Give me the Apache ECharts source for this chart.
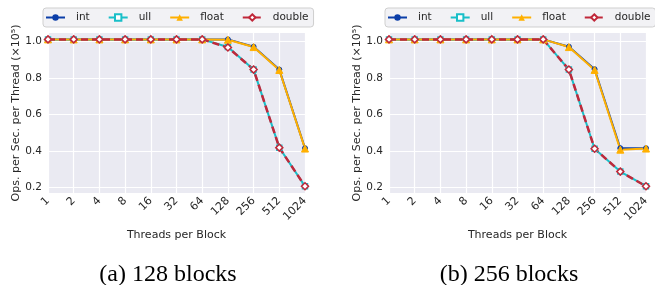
<!DOCTYPE html>
<html>
<head>
<meta charset="utf-8">
<script src="https://cdn.jsdelivr.net/npm/echarts@6/dist/echarts.min.js"></script>
<style>
* { margin: 0; padding: 0; }
#chart { width: 655px; height: 285px; background: #fff; }
</style>
</head>
<body>
<div id="chart"></div>
<script>
const threads = ['1', '2', '4', '8', '16', '32', '64', '128', '256', '512', '1024']
const yTicks = [0.2, 0.4, 0.6, 0.8, 1.0]

// (a) 128 blocks
const intA = [1.01, 1.01, 1.01, 1.01, 1.01, 1.01, 1.01, 1.01, 0.97, 0.845, 0.415]
const ullA = [1.01, 1.01, 1.01, 1.01, 1.01, 1.01, 1.01, 0.968, 0.845, 0.418, 0.207]
const floatA = [1.01, 1.01, 1.01, 1.01, 1.01, 1.01, 1.01, 1.008, 0.968, 0.843, 0.413]
const doubleA = [1.01, 1.01, 1.01, 1.01, 1.01, 1.01, 1.01, 0.966, 0.845, 0.418, 0.207]

// (b) 256 blocks
const intB = [1.01, 1.01, 1.01, 1.01, 1.01, 1.01, 1.01, 0.97, 0.847, 0.415, 0.415]
const ullB = [1.01, 1.01, 1.01, 1.01, 1.01, 1.01, 1.01, 0.845, 0.412, 0.287, 0.207]
const floatB = [1.01, 1.01, 1.01, 1.01, 1.01, 1.01, 1.01, 0.968, 0.843, 0.407, 0.413]
const doubleB = [1.01, 1.01, 1.01, 1.01, 1.01, 1.01, 1.01, 0.845, 0.412, 0.287, 0.207]

const captions = ['(a) 128 blocks', '(b) 256 blocks']

const colors = { int: '#0b3ea8', ull: '#19bfc8', float: '#ffb000', double: '#c0283a' }
const textColor = '#262626'
const font = 'DejaVu Sans'

const chart = echarts.init(document.getElementById('chart'), null, { renderer: 'canvas' })

const makeSeries = (idx, name, data) => {
  const base = {
    name: name,
    type: 'line',
    xAxisIndex: idx,
    yAxisIndex: idx,
    data: data,
    color: colors[name],
    symbolSize: 5,
    lineStyle: { width: 2, color: colors[name] },
    itemStyle: { color: colors[name], borderColor: colors[name] },
    animation: false
  }
  if (name === 'int') base.symbol = 'circle'
  if (name === 'ull') {
    base.symbol = 'rect'
    base.itemStyle = { color: '#ffffff', borderColor: colors[name], borderWidth: 1.5 }
  }
  if (name === 'float') {
    base.symbol = 'triangle'
    base.symbolSize = 7
  }
  if (name === 'double') {
    base.symbol = 'diamond'
    base.symbolSize = 7
    base.lineStyle = { width: 2.5, color: colors[name], type: [7, 4] }
    base.itemStyle = { color: '#ffffff', borderColor: colors[name], borderWidth: 1.5 }
  }
  return base
}

const grids = [
  { left: 48, top: 33, width: 257, height: 160 },
  { left: 389, top: 33, width: 257, height: 160 }
]

const makeX = (idx) => ({
  type: 'category',
  gridIndex: idx,
  data: threads,
  boundaryGap: false,
  name: 'Threads per Block',
  nameLocation: 'middle',
  nameGap: 34,
  nameTextStyle: { fontFamily: font, fontSize: 11, color: textColor },
  axisLine: { show: false },
  axisTick: { show: false },
  axisLabel: { rotate: 45, fontFamily: font, fontSize: 11, color: textColor, margin: 6, interval: 0 },
  splitLine: { show: true, lineStyle: { color: '#ffffff', width: 1.2 } }
})

const makeY = (idx) => ({
  type: 'value',
  gridIndex: idx,
  min: 0.17,
  max: 1.045,
  name: 'Ops. per Sec. per Thread (×10⁵)',
  nameLocation: 'middle',
  nameGap: 26,
  nameTextStyle: { fontFamily: font, fontSize: 11, color: textColor },
  axisLine: { show: false },
  axisTick: { show: false, customValues: yTicks },
  axisLabel: {
    customValues: yTicks,
    fontFamily: font, fontSize: 10.5, color: textColor, margin: 6,
    formatter: (v) => v.toFixed(1)
  },
  splitLine: { show: true, lineStyle: { color: '#ffffff', width: 1.2 } }
})

const makeLegend = (left) => ({
  left: left,
  top: 8,
  width: 320,
  orient: 'horizontal',
  data: ['int', 'ull', 'float', 'double'],
  itemWidth: 19,
  itemHeight: 8,
  itemGap: 18,
  padding: [4, 5, 4, 2],
  backgroundColor: '#f2f2f5',
  borderColor: '#cfcfcf',
  borderWidth: 1,
  borderRadius: 3,
  textStyle: { fontFamily: font, fontSize: 10.5, color: textColor, padding: [0, 0, 0, 6] },
  selectedMode: false
})

const option = {
  animation: false,
  grid: grids.map(g => Object.assign({ show: true, backgroundColor: '#eaeaf2', borderWidth: 0 }, g)),
  legend: [makeLegend(43), makeLegend(385)],
  xAxis: [makeX(0), makeX(1)],
  yAxis: [makeY(0), makeY(1)],
  title: captions.map((c, i) => ({
    text: c,
    left: i === 0 ? 163 : 504,
    top: 258,
    textAlign: 'center',
    textStyle: { fontFamily: 'Liberation Serif', fontSize: 24, fontWeight: 'normal', color: '#000' }
  })),
  series: [
    makeSeries(0, 'int', intA),
    makeSeries(0, 'ull', ullA),
    makeSeries(0, 'float', floatA),
    makeSeries(0, 'double', doubleA),
    makeSeries(1, 'int', intB),
    makeSeries(1, 'ull', ullB),
    makeSeries(1, 'float', floatB),
    makeSeries(1, 'double', doubleB)
  ]
}

chart.setOption(option)
</script>
</body>
</html>
